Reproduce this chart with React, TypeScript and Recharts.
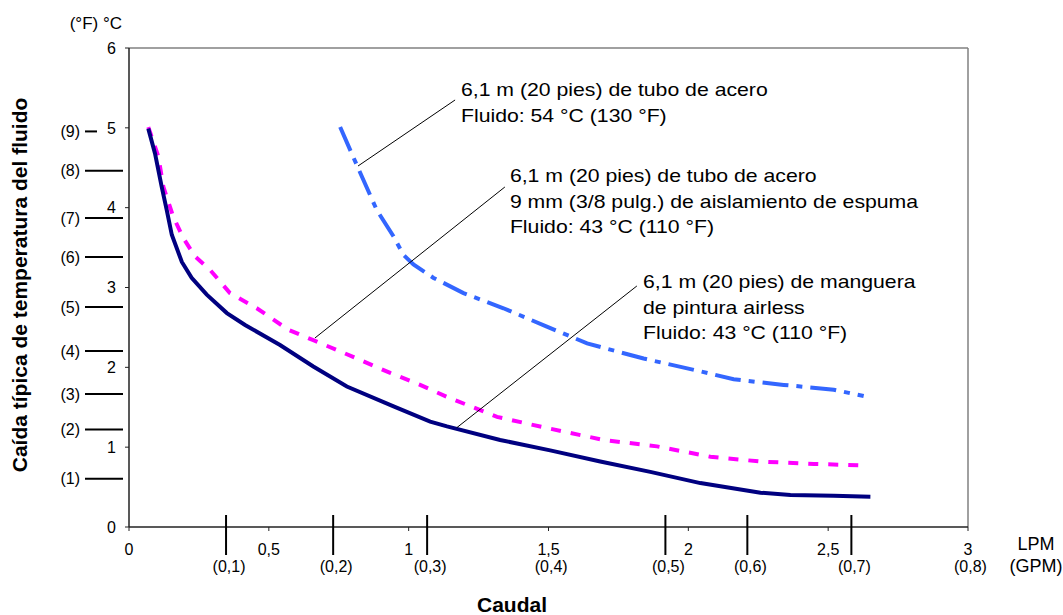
import React from 'react';
import { LineChart, Line, XAxis, YAxis, ReferenceLine, ReferenceDot } from 'recharts';

// ---- axis ticks (x in LPM, y in °C) ----
const lpmTicks = [0, 0.5, 1, 1.5, 2, 2.5, 3];
const lpmLabels = ['0', '0,5', '1', '1,5', '2', '2,5', '3'];
const gpmTickPositions = [0.347, 0.73, 1.066, 1.499, 1.918, 2.211, 2.583, 2.998];
const gpmLabels = ['(0,1)', '(0,2)', '(0,3)', '(0,4)', '(0,5)', '(0,6)', '(0,7)', '(0,8)'];
const gpmMarked = [true, true, true, false, true, true, true, false];
const celsiusTicks = [0, 1, 2, 3, 4, 5, 6];
const fahrenheitTickPositions = [0.605, 1.221, 1.666, 2.205, 2.756, 3.382, 3.871, 4.463, 4.955];
const fahrenheitLabels = ['(1)', '(2)', '(3)', '(4)', '(5)', '(6)', '(7)', '(8)', '(9)'];

// ---- series: 6,1 m manguera airless, fluido 43 °C ----
const hoseX = [0.069, 0.093, 0.117, 0.135, 0.153, 0.189, 0.224, 0.278, 0.35, 0.415, 0.54, 0.659, 0.779, 0.946, 1.077, 1.137, 1.327, 1.506, 1.685, 1.864, 2.043, 2.258, 2.365, 2.52, 2.651];
const hoseY = [4.99, 4.68, 4.26, 3.97, 3.66, 3.32, 3.12, 2.91, 2.68, 2.53, 2.28, 2.01, 1.76, 1.51, 1.32, 1.26, 1.09, 0.96, 0.82, 0.69, 0.55, 0.43, 0.4, 0.39, 0.38];

// ---- series: tubo de acero con aislamiento, fluido 43 °C ----
const insulatedX = [0.069, 0.105, 0.123, 0.158, 0.194, 0.236, 0.29, 0.361, 0.457, 0.57, 0.659, 0.755, 0.934, 1.041, 1.137, 1.316, 1.494, 1.697, 1.888, 2.079, 2.258, 2.449, 2.639];
const insulatedY = [5.01, 4.64, 4.26, 3.89, 3.62, 3.39, 3.22, 2.93, 2.74, 2.47, 2.34, 2.2, 1.93, 1.78, 1.63, 1.38, 1.24, 1.09, 1.01, 0.88, 0.82, 0.79, 0.77];

// ---- series: tubo de acero, fluido 54 °C ----
const steelX = [0.755, 0.82, 0.886, 0.946, 0.981, 1.017, 1.089, 1.196, 1.339, 1.494, 1.638, 1.84, 2.043, 2.162, 2.341, 2.52, 2.627];
const steelY = [5.01, 4.49, 3.97, 3.64, 3.41, 3.29, 3.12, 2.93, 2.74, 2.51, 2.3, 2.11, 1.95, 1.85, 1.78, 1.72, 1.64];

// ---- annotation texts ----
const noteSteel = ['6,1 m (20 pies) de tubo de acero', 'Fluido: 54 °C (130 °F)'];
const noteInsulated = ['6,1 m (20 pies) de tubo de acero', '9 mm (3/8 pulg.) de aislamiento de espuma', 'Fluido: 43 °C (110 °F)'];
const noteHose = ['6,1 m (20 pies) de manguera', 'de pintura airless', 'Fluido: 43 °C (110 °F)'];

const toPoints = (xs: number[], ys: number[]) => xs.map((x, i) => ({ x, y: ys[i] }));
const hoseData = toPoints(hoseX, hoseY);
const insulatedData = toPoints(insulatedX, insulatedY);
const steelData = toPoints(steelX, steelY);

// annotation placement in data units (text anchor + leader segment)
const notes = [
  { lines: noteSteel, at: { x: 1.187, y: 5.393 }, from: { x: 1.166, y: 5.349 }, to: { x: 0.819, y: 4.522 } },
  { lines: noteInsulated, at: { x: 1.362, y: 4.322 }, from: { x: 1.344, y: 4.259 }, to: { x: 0.665, y: 2.368 } },
  { lines: noteHose, at: { x: 1.838, y: 2.994 }, from: { x: 1.816, y: 3.019 }, to: { x: 1.172, y: 1.244 } },
];

const FONT = '"Liberation Sans", Arial, Helvetica, sans-serif';

const XTick = (props: any) => {
  const { x, y, payload } = props;
  const v = payload.value;
  const gi = gpmTickPositions.indexOf(v);
  if (gi >= 0) {
    return (
      <g>
        {gpmMarked[gi] && <line x1={x} x2={x} y1={y - 12} y2={y + 28} stroke="#000" strokeWidth={2} />}
        <text x={x + 3} y={y + 45} textAnchor="middle" fontSize={16} fill="#000" fontFamily={FONT}>{gpmLabels[gi]}</text>
      </g>
    );
  }
  const li = lpmTicks.indexOf(v);
  return (
    <g>
      <line x1={x} x2={x} y1={y} y2={y + 4} stroke="#222" strokeWidth={1} />
      <text x={x} y={y + 28} textAnchor="middle" fontSize={16} fill="#000" fontFamily={FONT}>{li >= 0 ? lpmLabels[li] : ''}</text>
    </g>
  );
};

const YTick = (props: any) => {
  const { x, y, payload } = props;
  const v = payload.value;
  const fi = fahrenheitTickPositions.indexOf(v);
  if (fi >= 0) {
    const short = Math.abs(v - Math.round(v)) < 0.08;
    return (
      <g>
        <line x1={x - 44} x2={short ? x - 32 : x - 6} y1={y} y2={y} stroke="#000" strokeWidth={2} />
        <text x={x - 49} y={y} dy="0.36em" textAnchor="end" fontSize={16} fill="#000" fontFamily={FONT}>{fahrenheitLabels[fi]}</text>
      </g>
    );
  }
  return (
    <g>
      <line x1={x - 4} x2={x} y1={y} y2={y} stroke="#222" strokeWidth={1} />
      <text x={x - 13} y={y} dy="0.36em" textAnchor="end" fontSize={16} fill="#000" fontFamily={FONT}>{String(v)}</text>
    </g>
  );
};

const NoteLabel = (lines: string[]) => (props: any) => {
  const vb = props.viewBox || {};
  const x = vb.x ?? 0;
  const y = vb.y ?? 0;
  return (
    <g transform={`translate(${x},${y}) scale(1.18,1)`}>
      <text x={0} y={0} fontSize={18} fill="#000" fontFamily={FONT}>
        {lines.map((l, i) => (
          <tspan key={i} x={0} dy={i === 0 ? 0 : 25.7}>{l}</tspan>
        ))}
      </text>
    </g>
  );
};

export default function App() {
  return (
    <div style={{ position: 'absolute', left: 0, top: 0, width: 1063, height: 615, background: '#fff' }}>
      <LineChart width={1063} height={615} margin={{ top: 48, right: 95, bottom: 0, left: 0 }}>
        <XAxis
          type="number"
          dataKey="x"
          domain={[0, 3]}
          ticks={[...lpmTicks, ...gpmTickPositions]}
          interval={0}
          allowDataOverflow
          height={88}
          tickSize={0}
          tickMargin={0}
          tickLine={false}
          axisLine={{ stroke: '#222', strokeWidth: 1.5 }}
          tick={<XTick />}
        />
        <YAxis
          type="number"
          dataKey="y"
          domain={[0, 6]}
          ticks={[...celsiusTicks, ...fahrenheitTickPositions]}
          interval={0}
          allowDataOverflow
          width={129}
          tickSize={0}
          tickMargin={0}
          tickLine={false}
          axisLine={{ stroke: '#222', strokeWidth: 1.5 }}
          tick={<YTick />}
        />
        <ReferenceLine y={6} stroke="#808080" strokeWidth={1.5} />
        <ReferenceLine x={3} stroke="#808080" strokeWidth={1.5} />
        <Line data={steelData} dataKey="y" type="linear" stroke="#3366FF" strokeWidth={4} strokeDasharray="26 8 6 8" dot={false} isAnimationActive={false} />
        <Line data={insulatedData} dataKey="y" type="linear" stroke="#FF00FF" strokeWidth={4} strokeDasharray="10 10" dot={false} isAnimationActive={false} />
        <Line data={hoseData} dataKey="y" type="linear" stroke="#000080" strokeWidth={4} dot={false} isAnimationActive={false} />
        {notes.map((n, i) => (
          <ReferenceLine key={'l' + i} segment={[n.from, n.to]} stroke="#000" strokeWidth={1} />
        ))}
        {notes.map((n, i) => (
          <ReferenceDot key={'d' + i} x={n.at.x} y={n.at.y} r={0} stroke="none" fill="none" label={NoteLabel(n.lines)} />
        ))}
      </LineChart>
      <svg width={1063} height={615} style={{ position: 'absolute', left: 0, top: 0, pointerEvents: 'none' }}>
        <text x={122} y={29} textAnchor="end" fontSize={17} fill="#000" fontFamily={FONT}>(°F) °C</text>
        <text
          x={19}
          y={285}
          dy="0.36em"
          transform="rotate(-90, 19, 285)"
          textAnchor="middle"
          fontSize={21}
          fontWeight="bold"
          fill="#000"
          fontFamily={FONT}
        >
          Caída típica de temperatura del fluido
        </text>
        <text x={512} y={612} textAnchor="middle" fontSize={21} fontWeight="bold" fill="#000" fontFamily={FONT}>Caudal</text>
        <text x={1036} y={550} textAnchor="middle" fontSize={18} fill="#000" fontFamily={FONT}>LPM</text>
        <text x={1036} y={572} textAnchor="middle" fontSize={18} fill="#000" fontFamily={FONT}>(GPM)</text>
      </svg>
    </div>
  );
}
